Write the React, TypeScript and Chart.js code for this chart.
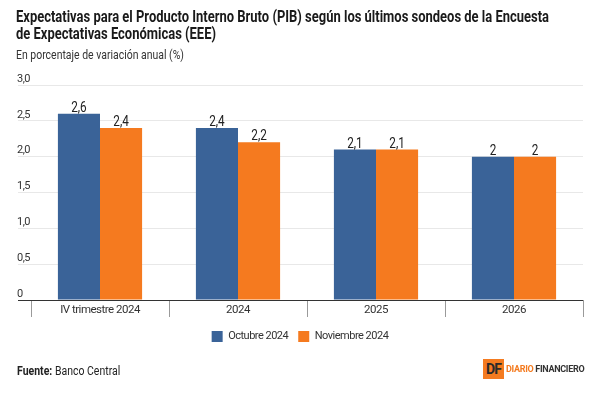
import React, { useEffect, useRef } from 'react';
import { Chart, registerables } from 'chart.js';

Chart.register(...registerables);

const FONT = 'Roboto, "Liberation Sans", "Noto Sans", sans-serif';

const titleLines = [
  'Expectativas para el Producto Interno Bruto (PIB) según los últimos sondeos de la Encuesta',
  'de Expectativas Económicas (EEE)',
];
const subtitleText = 'En porcentaje de variación anual (%)';
const categories = ['IV trimestre 2024', '2024', '2025', '2026'];
const seriesNames = ['Octubre 2024', 'Noviembre 2024'];
const octubre = [2.6, 2.4, 2.1, 2.0];
const noviembre = [2.4, 2.2, 2.1, 2.0];
const yMin = 0;
const yMax = 3;
const yStep = 0.5;

const BLUE = '#3a6398';
const ORANGE = '#f57a1f';
const SQUEEZE = 0.84;
const SPACING = '-0.5px';

const fmt = (v: number) => String(v).replace('.', ',');

function drawSqueezed(ctx: CanvasRenderingContext2D, text: string, x: number, y: number, k: number) {
  ctx.save();
  ctx.translate(x, y);
  ctx.scale(k, 1);
  ctx.fillText(text, 0, 0);
  ctx.restore();
}

const tightText = {
  id: 'tightText',
  beforeUpdate(chart: any) {
    try { chart.ctx.letterSpacing = SPACING; } catch (e) { /* ignore */ }
  },
  beforeDraw(chart: any) {
    try { chart.ctx.letterSpacing = SPACING; } catch (e) { /* ignore */ }
  },
};

const header = {
  id: 'header',
  afterDraw(chart: any) {
    const ctx: CanvasRenderingContext2D = chart.ctx;
    ctx.save();
    (ctx as any).letterSpacing = '0px';
    ctx.textAlign = 'left';
    ctx.textBaseline = 'middle';
    ctx.fillStyle = '#1a1a1a';
    ctx.font = `bold 16px ${FONT}`;
    const w1 = ctx.measureText(titleLines[0]).width;
    const k = Math.min(1, 533 / w1);
    drawSqueezed(ctx, titleLines[0], 16, 18, k);
    drawSqueezed(ctx, titleLines[1], 16, 35, k);
    ctx.font = `13px ${FONT}`;
    ctx.fillStyle = '#333';
    const ws = ctx.measureText(subtitleText).width;
    drawSqueezed(ctx, subtitleText, 16, 56, Math.min(1, 168 / ws));
    ctx.restore();
  },
};

const valueLabels = {
  id: 'valueLabels',
  afterDatasetsDraw(chart: any) {
    const ctx: CanvasRenderingContext2D = chart.ctx;
    ctx.save();
    (ctx as any).letterSpacing = '0px';
    ctx.font = `14px ${FONT}`;
    ctx.fillStyle = '#222';
    ctx.textAlign = 'center';
    ctx.textBaseline = 'alphabetic';
    chart.data.datasets.forEach((ds: any, i: number) => {
      const meta = chart.getDatasetMeta(i);
      meta.data.forEach((el: any, j: number) => {
        drawSqueezed(ctx, fmt(ds.data[j]), el.x, el.y - 2, SQUEEZE);
      });
    });
    ctx.restore();
  },
};

export default function App() {
  const ref = useRef<HTMLCanvasElement | null>(null);

  useEffect(() => {
    if (!ref.current) return;
    const chart = new Chart(ref.current, {
      type: 'bar',
      data: {
        labels: categories,
        datasets: [
          { label: seriesNames[0], data: octubre, backgroundColor: BLUE, borderWidth: 0 },
          { label: seriesNames[1], data: noviembre, backgroundColor: ORANGE, borderWidth: 0 },
        ],
      },
      options: {
        animation: false,
        responsive: false,
        devicePixelRatio: 1,
        datasets: { bar: { categoryPercentage: 0.61, barPercentage: 1 } },
        layout: { padding: { top: 85, left: 17, right: 17, bottom: 42 } },
        scales: {
          x: {
            grid: {
              display: true,
              offset: true,
              drawOnChartArea: false,
              drawTicks: true,
              tickLength: 17,
              color: '#9a9a9a',
              tickColor: '#9a9a9a',
            },
            border: { display: false },
            ticks: {
              font: { family: FONT, size: 11.5 },
              color: '#333',
              padding: -14,
              maxRotation: 0,
            },
            afterFit: (s: any) => { s.height = 21; },
          },
          y: {
            min: yMin,
            max: yMax,
            grid: {
              color: (c: any) => (c.tick && c.tick.value === 0 ? '#333' : '#e8e8e8'),
              tickColor: (c: any) => (c.tick && c.tick.value === 0 ? '#333' : '#e8e8e8'),
              tickLength: 13,
              drawTicks: true,
            },
            border: { display: false },
            ticks: {
              stepSize: yStep,
              mirror: true,
              padding: -14,
              labelOffset: -6,
              font: { family: FONT, size: 11 },
              color: '#333',
              callback: (v: any) => (v === 0 ? '0' : Number(v).toFixed(1).replace('.', ',')),
            },
            afterFit: (s: any) => { s.width = 14; },
          },
        },
        plugins: {
          title: { display: false },
          subtitle: { display: false },
          legend: {
            display: true,
            position: 'bottom',
            labels: {
              boxWidth: 11,
              boxHeight: 11,
              padding: 10,
              color: '#333',
              font: { family: FONT, size: 11 },
            },
          },
          tooltip: { enabled: false },
        },
      },
      plugins: [tightText, valueLabels, header],
    } as any);
    return () => chart.destroy();
  }, []);

  return (
    <div style={{ position: 'fixed', left: 0, top: 0, width: 600, height: 394, background: '#fff', overflow: 'hidden' }}>
      <canvas ref={ref} width={600} height={394} style={{ width: 600, height: 394, display: 'block' }} />
      <div style={{ position: 'absolute', left: 17, top: 363, fontFamily: FONT, fontSize: 12.5, color: '#222', lineHeight: '16px', whiteSpace: 'nowrap', transform: `scaleX(${SQUEEZE})`, transformOrigin: 'left center' }}>
        <b>Fuente:</b> Banco Central
      </div>
      <div style={{ position: 'absolute', left: 483, top: 359, width: 21, height: 20, background: '#f47b20', color: '#2a2a2a', fontFamily: FONT, fontWeight: 'bold', fontSize: 14, lineHeight: '20px', textAlign: 'center', letterSpacing: -1 }}>
        DF
      </div>
      <div style={{ position: 'absolute', left: 506, top: 363, fontFamily: FONT, fontWeight: 'bold', fontSize: 9, lineHeight: '12px', whiteSpace: 'nowrap', letterSpacing: -0.3 }}>
        <span style={{ color: '#f47b20' }}>DIARIO</span> <span style={{ color: '#333' }}>FINANCIERO</span>
      </div>
    </div>
  );
}
